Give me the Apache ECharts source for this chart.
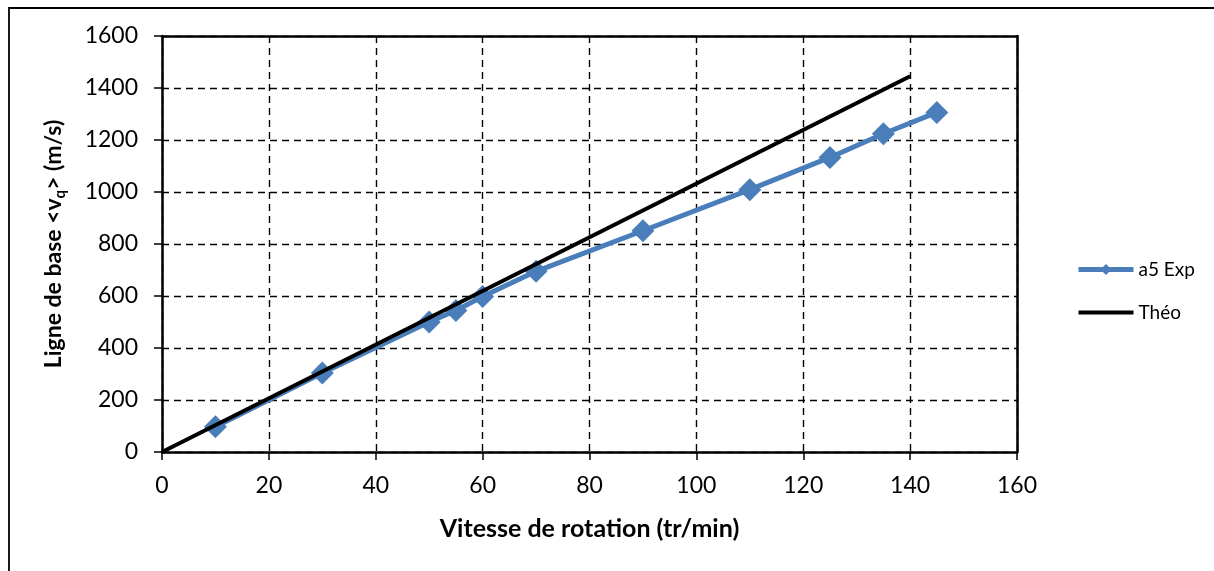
<!DOCTYPE html>
<html>
<head>
<meta charset="utf-8">
<script src="https://cdn.jsdelivr.net/npm/echarts@6/dist/echarts.min.js"></script>
<style>
html,body{margin:0;padding:0;background:#fff;}
#c{width:1214px;height:571px;}
</style>
</head>
<body>
<div id="c"></div>
<script>
// Data
const expSpeed = [10, 30, 50, 55, 60, 70, 90, 110, 125, 135, 145];
const expBase  = [97, 304, 500, 544, 598, 695, 851, 1009, 1133, 1224, 1306];
const theoSpeed = [0, 140];
const theoBase  = [0, 1445];
const seriesNames = ['a5 Exp', 'Théo'];
const xTitle = 'Vitesse de rotation (tr/min)';
const yTitle = 'Ligne de base <v{sub|q}> (m/s)';

const FONT = 'Lato, "Open Sans", sans-serif';
const chart = echarts.init(document.getElementById('c'), null, {renderer: 'canvas'});

const pairs = (xs, ys) => xs.map((x, i) => [x, ys[i]]);

chart.setOption({
  animation: false,
  backgroundColor: '#ffffff',
  textStyle: {fontFamily: FONT, color: '#000'},
  graphic: [{
    type: 'polyline',
    shape: {points: [[9, 571], [9, 8], [1214, 8]]},
    style: {stroke: '#000', lineWidth: 1.8, fill: null},
    silent: true
  }],
  grid: {left: 162, right: 197, top: 36, bottom: 119, containLabel: false},
  legend: {
    orient: 'vertical',
    left: 1071,
    top: 255,
    itemWidth: 55,
    itemHeight: 14,
    itemGap: 24,
    textStyle: {fontFamily: FONT, fontSize: 19, color: '#000'},
    data: [
      {name: seriesNames[0], lineStyle: {width: 5, color: '#4A7EBB'}},
      {name: seriesNames[1], lineStyle: {width: 4, color: '#000'}, itemStyle: {opacity: 0}}
    ]
  },
  xAxis: [{
    type: 'value',
    min: 0, max: 160, interval: 20,
    name: xTitle,
    nameLocation: 'middle',
    nameGap: 64,
    nameTextStyle: {fontFamily: FONT, fontSize: 25, fontWeight: 'bold', color: '#000'},
    axisLine: {show: true, onZero: false, lineStyle: {color: '#000', width: 2.5}},
    axisTick: {show: true, inside: false, length: 8, lineStyle: {color: '#000', width: 1.5}},
    axisLabel: {fontFamily: FONT, fontSize: 23, color: '#000', margin: 22, formatter: v => String(v)},
    splitLine: {show: true, lineStyle: {color: '#000', type: [7, 5], width: 1.4}}
  }, {
    type: 'value', position: 'top',
    min: 0, max: 160, interval: 20,
    axisLine: {show: true, onZero: false, lineStyle: {color: '#000', width: 2.5}},
    axisTick: {show: false}, axisLabel: {show: false}, splitLine: {show: false}
  }],
  yAxis: [{
    type: 'value',
    min: 0, max: 1600, interval: 200,
    name: yTitle,
    nameLocation: 'middle',
    nameRotate: 90,
    nameGap: 94,
    nameTextStyle: {
      fontFamily: FONT, fontSize: 23, fontWeight: 'bold', color: '#000',
      rich: {
        sub: {fontFamily: FONT, fontSize: 15, fontWeight: 'bold', color: '#000', padding: [13, 0, 0, 0]}
      }
    },
    axisLine: {show: true, onZero: false, lineStyle: {color: '#000', width: 2.5}},
    axisTick: {show: true, inside: false, length: 8, lineStyle: {color: '#000', width: 1.5}},
    axisLabel: {fontFamily: FONT, fontSize: 23, color: '#000', margin: 24, formatter: v => String(v)},
    splitLine: {show: true, lineStyle: {color: '#000', type: [7, 5], width: 1.4}}
  }, {
    type: 'value', position: 'right',
    min: 0, max: 1600, interval: 200,
    axisLine: {show: true, onZero: false, lineStyle: {color: '#000', width: 2.5}},
    axisTick: {show: false}, axisLabel: {show: false}, splitLine: {show: false}
  }],
  series: [{
    name: seriesNames[0],
    type: 'line',
    data: pairs(expSpeed, expBase),
    symbol: 'diamond',
    symbolSize: 23,
    color: '#4A7EBB',
    lineStyle: {color: '#4A7EBB', width: 5},
    itemStyle: {color: '#4A7EBB'},
    z: 3
  }, {
    name: seriesNames[1],
    type: 'line',
    data: pairs(theoSpeed, theoBase),
    symbol: 'none',
    showSymbol: false,
    color: '#000',
    lineStyle: {color: '#000', width: 4},
    z: 4
  }]
});
</script>
</body>
</html>
